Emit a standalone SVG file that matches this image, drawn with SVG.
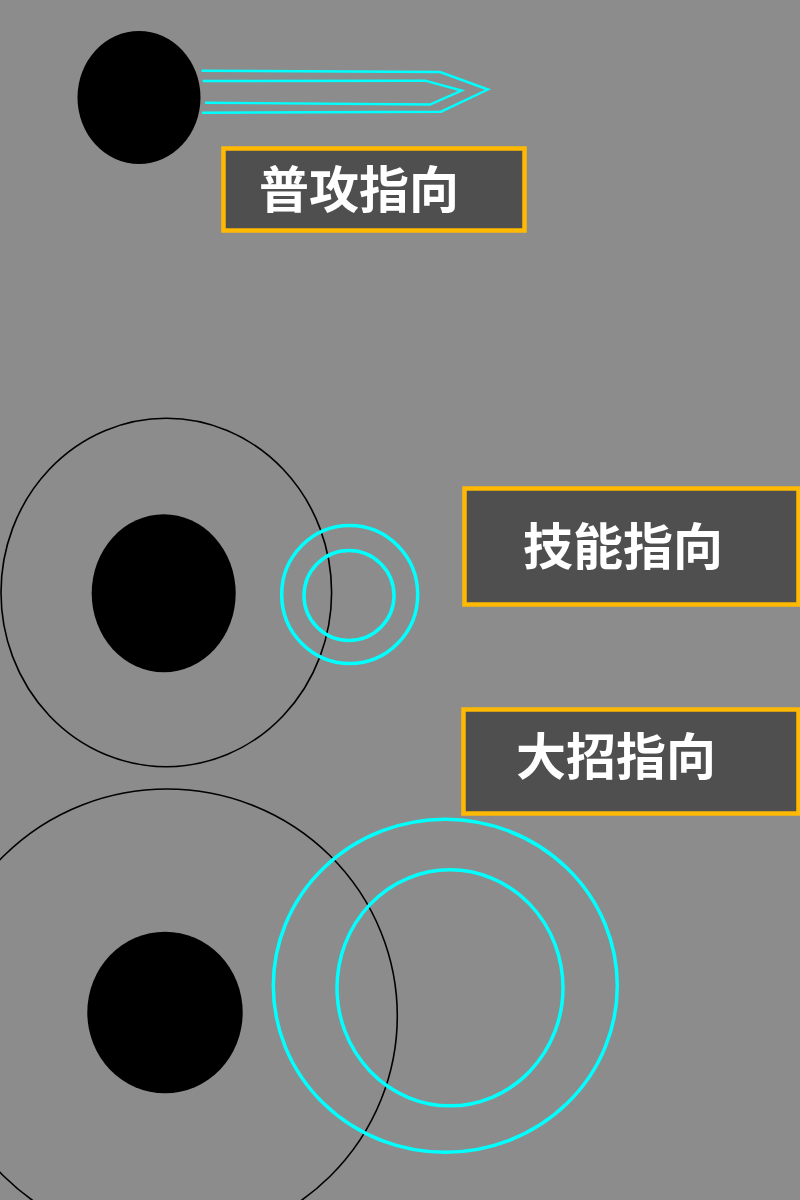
<svg xmlns="http://www.w3.org/2000/svg" width="800" height="1200" viewBox="0 0 800 1200">
<style>
.bg{fill:#8c8c8c}
.body{fill:#000}
.range{fill:none;stroke:#000;stroke-width:1.6}
.aim{fill:none;stroke:#00ffff;stroke-width:3.5}
.arrow{fill:none;stroke:#00ffff;stroke-width:2.4;stroke-linejoin:miter}
.box{fill:#4f4f4f;stroke:#ffb900;stroke-width:4.5}
.lbl{fill:#fff;font-family:"Noto Sans CJK SC","Noto Sans",sans-serif;font-weight:bold;font-size:50px}
</style>
<rect class="bg" x="0" y="0" width="800" height="1200"/>
<g id="normal-attack">
  <ellipse class="body" cx="139" cy="97.5" rx="61.5" ry="66.5"/>
</g>
<g id="connectors">
  <polyline class="arrow" points="201.5,70.7 440,72 488,89.5 441,111.7 202,112.7"/>
  <polyline class="arrow" points="202.7,81 425,80.7 461.7,90.5 430,104.5 205,102.7"/>
</g>
<g id="label-normal">
  <rect class="box" x="223.5" y="148.5" width="301" height="82"/>
  <text class="lbl" x="259" y="208">普攻指向</text>
</g>
<g id="skill">
  <ellipse class="range" cx="166.3" cy="592.5" rx="165.3" ry="174.2"/>
  <ellipse class="body" cx="163.7" cy="593.3" rx="72" ry="79"/>
  <ellipse class="aim" cx="349.7" cy="594.5" rx="68" ry="69"/>
  <ellipse class="aim" cx="349" cy="595.5" rx="45" ry="45"/>
</g>
<g id="label-skill">
  <rect class="box" x="464.5" y="488.5" width="334" height="116"/>
  <text class="lbl" x="523" y="565">技能指向</text>
</g>
<g id="ultimate">
  <ellipse class="range" cx="167" cy="1016" rx="230.3" ry="227"/>
  <ellipse class="body" cx="165" cy="1012.5" rx="77.7" ry="80.8"/>
  <ellipse class="aim" cx="445.3" cy="985.8" rx="172" ry="166.5"/>
  <ellipse class="aim" cx="450" cy="987.8" rx="113" ry="118"/>
</g>
<g id="label-ultimate">
  <rect class="box" x="463.5" y="709.5" width="335" height="104"/>
  <text class="lbl" x="516" y="775">大招指向</text>
</g>
</svg>
